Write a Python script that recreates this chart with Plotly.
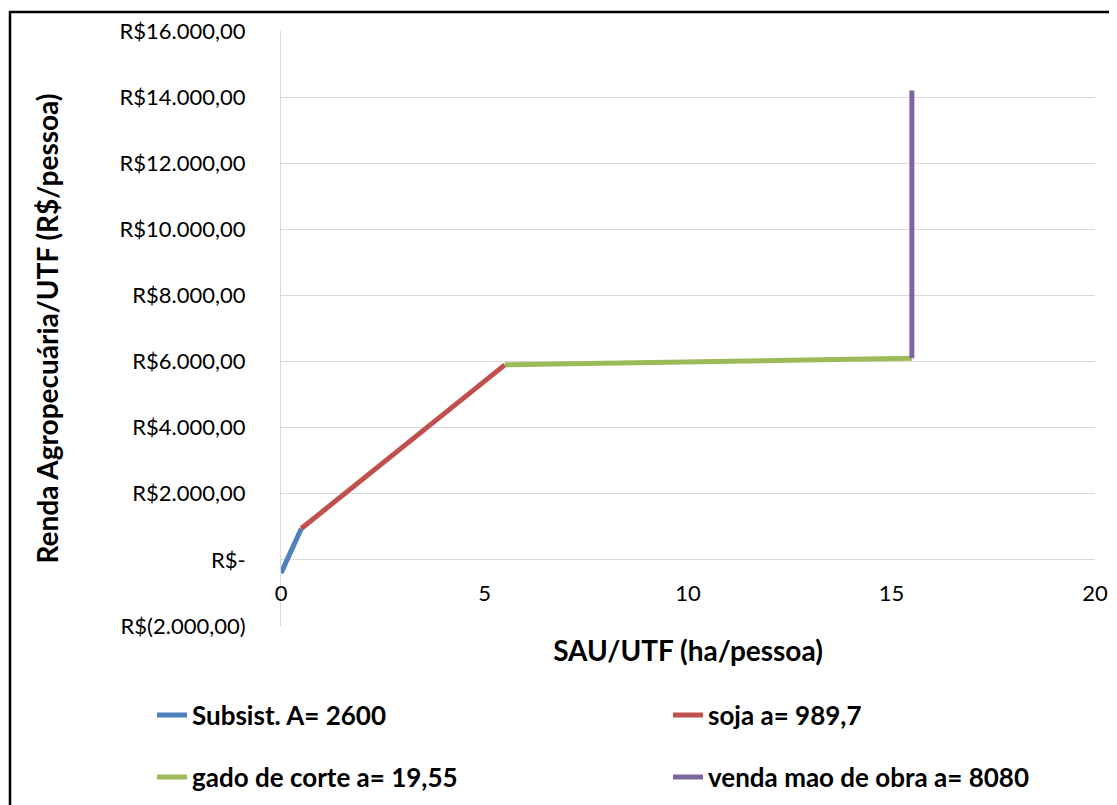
import plotly.graph_objects as go

# Data
series_names = ["Subsist. A= 2600", "soja a= 989,7", "gado de corte a= 19,55", "venda mao de obra a= 8080"]
subsist_x = [0, 0.5]
subsist_y = [-400, 950]
soja_x = [0.5, 5.5]
soja_y = [950, 5900]
gado_x = [5.5, 15.5]
gado_y = [5900, 6100]
venda_x = [15.5, 15.5]
venda_y = [6100, 14200]

y_tickvals = [-2000, 0, 2000, 4000, 6000, 8000, 10000, 12000, 14000, 16000]
y_ticktext = ["R$(2.000,00)", "R$-", "R$2.000,00", "R$4.000,00", "R$6.000,00",
              "R$8.000,00", "R$10.000,00", "R$12.000,00", "R$14.000,00", "R$16.000,00"]
x_tickvals = [0, 5, 10, 15, 20]

colors = ["#4F81BD", "#C0504D", "#9BBB59", "#8064A2"]
FONT = "Lato, Carlito, Calibri, sans-serif"

OFF = 8  # browser body margin
W, H = 1117 - OFF, 805 - OFF
ML, MT = 281 - OFF, 31 - OFF
MR = W - (1095 - OFF)
MB = H - (626 - OFF)
pw, ph = W - ML - MR, H - MT - MB


def px_x(p):  # screen px -> paper x
    return (p - OFF - ML) / pw


def px_y(p):  # screen px -> paper y
    return 1 - (p - OFF - MT) / ph


fig = go.Figure()
data = [(subsist_x, subsist_y), (soja_x, soja_y), (gado_x, gado_y), (venda_x, venda_y)]
legend_ids = ["legend", "legend2", "legend3", "legend4"]
for (xs, ys), name, c, lg in zip(data, series_names, colors, legend_ids):
    fig.add_trace(go.Scatter(x=xs, y=ys, mode="lines", name="<b>" + name + "</b>",
                             line=dict(color=c, width=5), legend=lg))

ymin, ymax = -2000, 16000
x_axis_pos = (0 - ymin) / (ymax - ymin)

leg_pos = [(152, 715), (668, 715), (152, 777), (668, 777)]
leg_common = dict(orientation="h", xanchor="left", yanchor="middle",
                  font=dict(size=26, family=FONT, color="black"), bgcolor="rgba(0,0,0,0)")
legend_layout = {}
for lg, (lx, ly) in zip(legend_ids, leg_pos):
    legend_layout[lg] = dict(x=px_x(lx), y=px_y(ly), **leg_common)

fig.update_layout(
    width=W, height=H,
    margin=dict(l=ML, r=MR, t=MT, b=MB, autoexpand=False),
    paper_bgcolor="white", plot_bgcolor="white",
    font=dict(family=FONT, color="black", size=22),
    xaxis=dict(range=[0, 20], tickvals=x_tickvals, showgrid=False, zeroline=False,
               showline=False, ticks="", anchor="free", position=x_axis_pos,
               tickfont=dict(size=22), ticklabelstandoff=18,
               title=dict(text="<b>SAU/UTF (ha/pessoa)</b>", font=dict(size=28), standoff=36)),
    yaxis=dict(range=[ymin, ymax], tickvals=y_tickvals, ticktext=y_ticktext,
               showgrid=True, gridcolor="#D9D9D9", gridwidth=1, zeroline=False,
               showline=True, linecolor="#D9D9D9", linewidth=1, ticks="",
               tickfont=dict(size=22), ticklabelstandoff=30,
               title=dict(text="<b>Renda Agropecuária/UTF (R$/pessoa)</b>", font=dict(size=28), standoff=52)),
    showlegend=True,
    **legend_layout,
)

# Outer chart frame
fig.add_shape(type="rect", xref="paper", yref="paper",
              x0=px_x(10), x1=px_x(1140), y0=px_y(830), y1=px_y(12),
              line=dict(color="black", width=2.5), fillcolor="rgba(0,0,0,0)", layer="below")

fig.write_html("out.html")
